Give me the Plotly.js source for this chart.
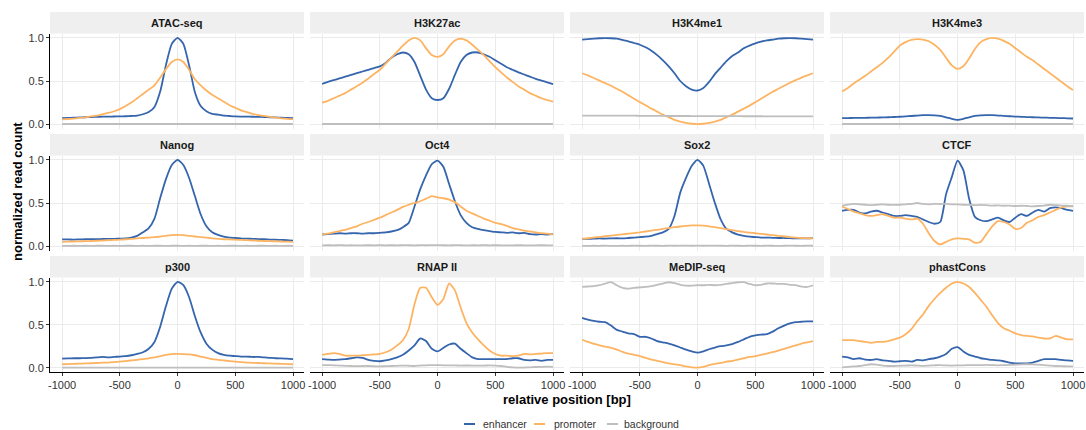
<!DOCTYPE html>
<html>
<head>
<meta charset="utf-8">
<script src="https://cdn.plot.ly/plotly-3.0.1.min.js"></script>
<style>html,body{margin:0;padding:0;background:#fff;}#chart{width:1086px;height:430px;}</style>
</head>
<body>
<div id="chart"></div>
<script>
// ---------- DATA ----------
const position = [-1000,-950,-900,-850,-800,-750,-700,-650,-600,-550,-500,-450,-400,-350,-300,-250,-200,-150,-100,-50,0,50,100,150,200,250,300,350,400,450,500,550,600,650,700,750,800,850,900,950,1000];

const panelNames = ['ATAC-seq','H3K27ac','H3K4me1','H3K4me3','Nanog','Oct4','Sox2','CTCF','p300','RNAP II','MeDIP-seq','phastCons'];
const seriesNames = ['enhancer','promoter','background'];
const seriesColors = ['#3565AD','#FDB462','#BEBEBE'];
const xTickVals = [-1000,-500,0,500,1000];
const xTickText = ['-1000','-500','0','500','1000'];
const yTickVals = [0,0.5,1];
const yTickText = ['0.0','0.5','1.0'];

// ATAC-seq
const atac_enhancer = [0.07,0.072,0.075,0.078,0.08,0.083,0.085,0.087,0.088,0.089,0.09,0.092,0.095,0.1,0.115,0.14,0.2,0.38,0.69,0.93,1.0,0.93,0.68,0.37,0.21,0.15,0.12,0.11,0.1,0.095,0.09,0.088,0.087,0.086,0.085,0.083,0.08,0.078,0.075,0.073,0.07];
const atac_promoter = [0.055,0.06,0.065,0.072,0.08,0.09,0.1,0.115,0.13,0.15,0.175,0.21,0.25,0.3,0.35,0.4,0.45,0.54,0.64,0.72,0.75,0.72,0.63,0.52,0.45,0.39,0.34,0.3,0.26,0.22,0.19,0.16,0.14,0.12,0.105,0.095,0.085,0.075,0.068,0.062,0.058];
const atac_background = [0.002,0.002,0.002,0.002,0.002,0.002,0.002,0.002,0.002,0.002,0.002,0.002,0.002,0.002,0.002,0.002,0.002,0.002,0.002,0.002,0.002,0.002,0.002,0.002,0.002,0.002,0.002,0.002,0.002,0.002,0.002,0.002,0.002,0.002,0.002,0.002,0.002,0.002,0.002,0.002,0.002];

// H3K27ac
const h3k27ac_enhancer = [0.465,0.49,0.51,0.53,0.55,0.57,0.59,0.61,0.63,0.65,0.67,0.71,0.77,0.81,0.83,0.81,0.72,0.56,0.4,0.3,0.28,0.3,0.41,0.57,0.72,0.8,0.83,0.83,0.81,0.78,0.74,0.7,0.66,0.63,0.6,0.575,0.55,0.525,0.505,0.485,0.465];
const h3k27ac_promoter = [0.25,0.27,0.3,0.33,0.36,0.4,0.44,0.48,0.53,0.58,0.63,0.7,0.77,0.84,0.91,0.97,1.0,0.97,0.88,0.8,0.78,0.81,0.9,0.97,0.99,0.97,0.92,0.86,0.8,0.73,0.66,0.6,0.54,0.49,0.44,0.4,0.36,0.33,0.3,0.28,0.26];
const h3k27ac_background = [0.002,0.002,0.002,0.002,0.002,0.002,0.002,0.002,0.002,0.002,0.002,0.002,0.002,0.002,0.002,0.002,0.002,0.002,0.002,0.002,0.002,0.002,0.002,0.002,0.002,0.002,0.002,0.002,0.002,0.002,0.002,0.002,0.002,0.002,0.002,0.002,0.002,0.002,0.002,0.002,0.002];

// H3K4me1
const h3k4me1_enhancer = [0.98,0.985,0.99,0.995,0.997,0.995,0.99,0.975,0.96,0.94,0.92,0.89,0.85,0.8,0.74,0.67,0.59,0.5,0.44,0.4,0.39,0.42,0.49,0.58,0.655,0.73,0.79,0.83,0.88,0.91,0.935,0.955,0.97,0.98,0.99,0.995,0.997,0.995,0.99,0.985,0.98];
const h3k4me1_promoter = [0.59,0.565,0.535,0.505,0.475,0.445,0.41,0.375,0.335,0.295,0.255,0.22,0.18,0.145,0.11,0.08,0.05,0.03,0.015,0.005,0.0,0.005,0.015,0.03,0.05,0.08,0.11,0.145,0.18,0.215,0.255,0.295,0.335,0.375,0.41,0.445,0.48,0.51,0.54,0.565,0.59];
const h3k4me1_background = [0.1,0.1,0.1,0.1,0.1,0.1,0.1,0.099,0.098,0.098,0.097,0.097,0.096,0.096,0.096,0.095,0.095,0.095,0.095,0.094,0.094,0.094,0.094,0.093,0.093,0.093,0.093,0.093,0.092,0.092,0.092,0.092,0.091,0.091,0.091,0.091,0.09,0.09,0.09,0.09,0.09];

// H3K4me3
const h3k4me3_enhancer = [0.07,0.071,0.072,0.073,0.074,0.075,0.077,0.078,0.08,0.083,0.086,0.09,0.095,0.1,0.104,0.105,0.103,0.095,0.08,0.062,0.05,0.062,0.08,0.095,0.103,0.105,0.104,0.1,0.096,0.092,0.088,0.085,0.082,0.08,0.078,0.076,0.074,0.072,0.07,0.068,0.066];
const h3k4me3_promoter = [0.38,0.42,0.47,0.515,0.56,0.61,0.66,0.71,0.77,0.84,0.91,0.95,0.975,0.985,0.98,0.96,0.92,0.86,0.77,0.68,0.64,0.67,0.76,0.87,0.95,0.985,1.0,0.99,0.965,0.93,0.88,0.83,0.78,0.74,0.69,0.64,0.59,0.54,0.49,0.44,0.395];
const h3k4me3_background = [0.002,0.002,0.002,0.002,0.002,0.002,0.002,0.002,0.002,0.002,0.002,0.002,0.002,0.002,0.002,0.002,0.002,0.002,0.002,0.002,0.002,0.002,0.002,0.002,0.002,0.002,0.002,0.002,0.002,0.002,0.002,0.002,0.002,0.002,0.002,0.002,0.002,0.002,0.002,0.002,0.002];

// Nanog
const nanog_enhancer = [0.078,0.078,0.077,0.079,0.08,0.082,0.08,0.083,0.085,0.085,0.088,0.09,0.1,0.12,0.16,0.21,0.32,0.56,0.78,0.94,1.0,0.94,0.79,0.58,0.37,0.23,0.16,0.13,0.11,0.1,0.095,0.09,0.087,0.085,0.082,0.08,0.077,0.075,0.072,0.07,0.065];
const nanog_promoter = [0.05,0.052,0.054,0.056,0.058,0.06,0.063,0.066,0.069,0.072,0.075,0.08,0.085,0.09,0.095,0.1,0.105,0.11,0.12,0.127,0.13,0.127,0.12,0.112,0.105,0.098,0.09,0.085,0.08,0.078,0.075,0.072,0.069,0.066,0.063,0.06,0.058,0.056,0.054,0.052,0.05];
const nanog_background = [0.004,0.004,0.005,0.004,0.005,0.004,0.005,0.005,0.004,0.005,0.004,0.005,0.005,0.004,0.005,0.004,0.005,0.005,0.004,0.005,0.005,0.004,0.005,0.004,0.005,0.005,0.004,0.005,0.004,0.005,0.005,0.004,0.005,0.004,0.005,0.005,0.004,0.005,0.004,0.005,0.004];

// Oct4
const oct4_enhancer = [0.135,0.14,0.145,0.15,0.145,0.15,0.15,0.145,0.15,0.15,0.155,0.16,0.17,0.185,0.22,0.27,0.46,0.66,0.82,0.95,0.99,0.92,0.72,0.52,0.36,0.27,0.22,0.2,0.185,0.175,0.165,0.16,0.155,0.16,0.15,0.155,0.14,0.135,0.14,0.135,0.14];
const oct4_promoter = [0.135,0.145,0.16,0.175,0.19,0.21,0.23,0.26,0.28,0.305,0.33,0.36,0.39,0.42,0.455,0.48,0.5,0.52,0.55,0.58,0.565,0.555,0.54,0.51,0.46,0.41,0.38,0.35,0.32,0.295,0.27,0.255,0.235,0.21,0.195,0.18,0.17,0.16,0.15,0.145,0.135];
const oct4_background = [0.01,0.011,0.01,0.012,0.01,0.011,0.009,0.01,0.011,0.01,0.012,0.01,0.011,0.01,0.012,0.011,0.01,0.012,0.011,0.013,0.012,0.011,0.01,0.012,0.011,0.01,0.011,0.01,0.012,0.01,0.011,0.01,0.009,0.01,0.011,0.01,0.009,0.01,0.011,0.01,0.01];

// Sox2
const sox2_enhancer = [0.085,0.085,0.087,0.09,0.088,0.09,0.092,0.09,0.095,0.1,0.105,0.11,0.12,0.14,0.16,0.2,0.35,0.62,0.79,0.93,1.0,0.93,0.72,0.5,0.31,0.2,0.16,0.135,0.12,0.11,0.105,0.1,0.1,0.097,0.095,0.095,0.093,0.09,0.092,0.09,0.093];
const sox2_promoter = [0.085,0.092,0.1,0.108,0.115,0.122,0.13,0.137,0.145,0.152,0.16,0.17,0.18,0.19,0.2,0.21,0.22,0.228,0.235,0.24,0.24,0.237,0.23,0.22,0.21,0.197,0.185,0.175,0.165,0.157,0.15,0.142,0.135,0.127,0.12,0.112,0.105,0.1,0.095,0.092,0.09];
const sox2_background = [0.004,0.003,0.005,0.004,0.006,0.004,0.003,0.005,0.004,0.006,0.005,0.004,0.006,0.005,0.004,0.006,0.005,0.007,0.006,0.005,0.006,0.005,0.007,0.006,0.005,0.004,0.006,0.005,0.004,0.006,0.005,0.004,0.006,0.005,0.004,0.005,0.006,0.005,0.004,0.006,0.005];

// CTCF
const ctcf_enhancer = [0.41,0.42,0.42,0.39,0.38,0.4,0.41,0.39,0.37,0.35,0.35,0.36,0.35,0.34,0.31,0.28,0.26,0.28,0.6,0.8,0.99,0.88,0.55,0.34,0.3,0.29,0.31,0.33,0.3,0.28,0.33,0.37,0.35,0.39,0.42,0.4,0.44,0.45,0.44,0.42,0.41];
const ctcf_promoter = [0.46,0.43,0.4,0.38,0.36,0.35,0.36,0.37,0.35,0.33,0.33,0.32,0.31,0.32,0.26,0.15,0.06,0.02,0.05,0.08,0.09,0.085,0.08,0.04,0.05,0.14,0.23,0.29,0.28,0.25,0.2,0.21,0.27,0.3,0.34,0.36,0.39,0.42,0.45,0.46,0.465];
const ctcf_background = [0.47,0.48,0.49,0.485,0.48,0.475,0.48,0.485,0.48,0.478,0.48,0.485,0.49,0.5,0.49,0.485,0.49,0.488,0.49,0.485,0.485,0.48,0.478,0.475,0.478,0.475,0.47,0.472,0.468,0.47,0.465,0.468,0.465,0.462,0.465,0.47,0.48,0.475,0.47,0.468,0.46];

// p300
const p300_enhancer = [0.105,0.108,0.11,0.11,0.112,0.115,0.12,0.125,0.12,0.125,0.13,0.135,0.145,0.16,0.18,0.22,0.3,0.48,0.72,0.92,1.0,0.96,0.82,0.6,0.41,0.28,0.21,0.17,0.15,0.14,0.135,0.13,0.13,0.125,0.125,0.12,0.115,0.11,0.108,0.105,0.1];
const p300_promoter = [0.04,0.042,0.045,0.047,0.05,0.052,0.055,0.058,0.06,0.065,0.07,0.077,0.085,0.092,0.1,0.108,0.12,0.135,0.15,0.158,0.16,0.158,0.155,0.145,0.13,0.115,0.1,0.092,0.085,0.077,0.07,0.065,0.06,0.057,0.055,0.052,0.05,0.047,0.045,0.042,0.04];
const p300_background = [0.002,0.002,0.002,0.002,0.002,0.002,0.002,0.002,0.002,0.002,0.002,0.002,0.002,0.002,0.002,0.002,0.002,0.002,0.002,0.002,0.002,0.002,0.002,0.002,0.002,0.002,0.002,0.002,0.002,0.002,0.002,0.002,0.002,0.002,0.002,0.002,0.002,0.002,0.002,0.002,0.002];

// RNAP II
const rnap_enhancer = [0.1,0.095,0.09,0.095,0.1,0.11,0.12,0.115,0.09,0.08,0.075,0.085,0.1,0.12,0.15,0.2,0.26,0.34,0.31,0.22,0.19,0.23,0.27,0.28,0.22,0.17,0.12,0.1,0.1,0.1,0.1,0.1,0.1,0.11,0.11,0.09,0.085,0.09,0.08,0.09,0.09];
const rnap_promoter = [0.15,0.16,0.17,0.16,0.14,0.14,0.14,0.145,0.15,0.155,0.16,0.18,0.21,0.26,0.32,0.45,0.74,0.93,0.93,0.82,0.73,0.8,0.98,0.9,0.7,0.52,0.41,0.33,0.26,0.2,0.16,0.14,0.14,0.135,0.14,0.16,0.155,0.16,0.165,0.17,0.17];
const rnap_background = [0.03,0.03,0.028,0.025,0.022,0.02,0.018,0.02,0.02,0.017,0.015,0.018,0.02,0.022,0.025,0.023,0.02,0.025,0.028,0.03,0.03,0.028,0.027,0.026,0.025,0.026,0.025,0.024,0.025,0.026,0.025,0.02,0.01,0.003,0.0,0.002,0.005,0.008,0.01,0.012,0.01];

// MeDIP-seq
const medip_enhancer = [0.58,0.56,0.545,0.535,0.53,0.49,0.44,0.42,0.4,0.39,0.36,0.36,0.34,0.31,0.295,0.28,0.26,0.235,0.21,0.19,0.175,0.19,0.215,0.235,0.25,0.26,0.275,0.3,0.33,0.36,0.375,0.385,0.39,0.42,0.46,0.49,0.515,0.53,0.535,0.54,0.54];
const medip_promoter = [0.325,0.3,0.28,0.26,0.245,0.23,0.21,0.185,0.165,0.15,0.135,0.115,0.095,0.08,0.065,0.05,0.04,0.03,0.015,0.005,0.0,0.01,0.03,0.045,0.055,0.07,0.08,0.095,0.11,0.125,0.135,0.15,0.165,0.18,0.2,0.22,0.24,0.26,0.28,0.295,0.31];
const medip_background = [0.94,0.945,0.95,0.96,0.98,0.995,0.96,0.93,0.92,0.93,0.935,0.94,0.95,0.965,0.98,0.995,0.985,0.965,0.955,0.955,0.96,0.96,0.965,0.96,0.965,0.975,0.985,0.995,0.995,0.975,0.96,0.965,0.98,0.98,0.975,0.975,0.965,0.96,0.945,0.94,0.96];

// phastCons
const phast_enhancer = [0.13,0.12,0.1,0.11,0.095,0.09,0.1,0.085,0.08,0.07,0.075,0.08,0.07,0.09,0.085,0.1,0.11,0.13,0.16,0.22,0.24,0.19,0.15,0.13,0.11,0.1,0.09,0.085,0.075,0.06,0.05,0.05,0.05,0.06,0.08,0.1,0.1,0.1,0.09,0.085,0.08];
const phast_promoter = [0.32,0.32,0.32,0.31,0.3,0.29,0.3,0.3,0.31,0.33,0.35,0.39,0.45,0.54,0.62,0.72,0.8,0.87,0.93,0.98,1.0,0.98,0.94,0.87,0.79,0.71,0.61,0.52,0.46,0.43,0.4,0.38,0.37,0.365,0.35,0.34,0.34,0.37,0.35,0.33,0.33];
const phast_background = [0.005,0.01,0.015,0.02,0.03,0.04,0.035,0.025,0.02,0.02,0.022,0.025,0.028,0.025,0.022,0.025,0.028,0.03,0.027,0.025,0.027,0.028,0.03,0.03,0.03,0.032,0.03,0.028,0.03,0.032,0.035,0.038,0.04,0.038,0.035,0.03,0.025,0.02,0.018,0.015,0.015];

const panelSeries = [
  [atac_enhancer, atac_promoter, atac_background],
  [h3k27ac_enhancer, h3k27ac_promoter, h3k27ac_background],
  [h3k4me1_enhancer, h3k4me1_promoter, h3k4me1_background],
  [h3k4me3_enhancer, h3k4me3_promoter, h3k4me3_background],
  [nanog_enhancer, nanog_promoter, nanog_background],
  [oct4_enhancer, oct4_promoter, oct4_background],
  [sox2_enhancer, sox2_promoter, sox2_background],
  [ctcf_enhancer, ctcf_promoter, ctcf_background],
  [p300_enhancer, p300_promoter, p300_background],
  [rnap_enhancer, rnap_promoter, rnap_background],
  [medip_enhancer, medip_promoter, medip_background],
  [phast_enhancer, phast_promoter, phast_background]
];

// ---------- LAYOUT ----------
const FONT = 'Liberation Sans, Arial, Helvetica, sans-serif';
const W = 1086, H = 430;
const mL = 50, mR = 2, mT = 12, mB = 58;
const plotW = W - mL - mR, plotH = H - mT - mB;
const colLeft = [50, 310, 570, 830], panelW = 254;
const rowTop = [12, 134, 256], stripH = 21.5, panelBottomOff = 116.5;
const px2x = p => (p - mL) / plotW;
const py2y = p => (H - mB - p) / plotH;

const traces = [];
const layout = {
  width: W, height: H,
  margin: {l: mL, r: mR, t: mT, b: mB, autoexpand: false},
  paper_bgcolor: '#ffffff', plot_bgcolor: '#ffffff',
  font: {family: FONT, size: 11, color: '#333333'},
  showlegend: false,
  shapes: [], annotations: []
};

panelNames.forEach((name, i) => {
  const r = Math.floor(i / 4), c = i % 4;
  const n = i + 1;
  const xk = 'xaxis' + (n === 1 ? '' : n), yk = 'yaxis' + (n === 1 ? '' : n);
  const xr = 'x' + (n === 1 ? '' : n), yr = 'y' + (n === 1 ? '' : n);
  const left = colLeft[c], right = left + panelW;
  const top = rowTop[r] + stripH, bottom = rowTop[r] + panelBottomOff;
  const isBottom = r === 2, isLeft = c === 0;
  layout[xk] = {
    domain: [px2x(left), px2x(right)], anchor: yr, range: [-1105, 1095],
    tickvals: xTickVals, ticktext: xTickText, showticklabels: isBottom,
    ticks: isBottom ? 'outside' : '', ticklen: 3, tickcolor: '#333333', tickwidth: 1,
    showline: isBottom, linecolor: '#000000', linewidth: 1,
    showgrid: true, gridcolor: '#EBEBEB', gridwidth: 1, zeroline: false,
    tickfont: {family: FONT, size: 11, color: '#333333'}, fixedrange: true
  };
  layout[yk] = {
    domain: [py2y(bottom), py2y(top)], anchor: xr, range: [-0.05, 1.05],
    tickvals: yTickVals, ticktext: yTickText, showticklabels: isLeft,
    ticks: isLeft ? 'outside' : '', ticklen: 3, tickcolor: '#333333', tickwidth: 1,
    showline: isLeft, linecolor: '#000000', linewidth: 1,
    showgrid: true, gridcolor: '#EBEBEB', gridwidth: 1, zeroline: false,
    tickfont: {family: FONT, size: 11, color: '#333333'}, fixedrange: true
  };
  layout.shapes.push({type: 'rect', xref: 'paper', yref: 'paper', layer: 'below',
    x0: px2x(left), x1: px2x(right), y0: py2y(rowTop[r] + stripH), y1: py2y(rowTop[r]),
    fillcolor: '#EFEFEF', line: {width: 0}});
  layout.annotations.push({xref: 'paper', yref: 'paper', x: px2x((left + right) / 2),
    y: py2y(rowTop[r] + stripH / 2), text: '<b>' + name + '</b>', showarrow: false,
    xanchor: 'center', yanchor: 'middle', font: {family: FONT, size: 11, color: '#1A1A1A'}});
  panelSeries[i].forEach((vals, s) => {
    traces.push({
      type: 'scatter', mode: 'lines', x: position, y: vals, xaxis: xr, yaxis: yr,
      name: seriesNames[s], showlegend: false,
      line: {color: seriesColors[s], width: 1.8, shape: 'spline', smoothing: 0.6},
      hoverinfo: 'skip'
    });
  });
});

// Axis titles
layout.annotations.push({xref: 'paper', yref: 'paper', x: px2x(567), y: py2y(399),
  text: '<b>relative position [bp]</b>', showarrow: false, xanchor: 'center', yanchor: 'middle',
  font: {family: FONT, size: 13, color: '#000000'}});
layout.annotations.push({xref: 'paper', yref: 'paper', x: px2x(17), y: py2y(192),
  text: '<b>normalized read count</b>', showarrow: false, textangle: -90,
  xanchor: 'center', yanchor: 'middle', font: {family: FONT, size: 13, color: '#000000'}});

// Legend (key line + label for each series)
const legendKeyX = [464, 534, 607];
const legendTextX = [481, 552, 622];
seriesNames.forEach((nm, s) => {
  const x0 = legendKeyX[s];
  layout.shapes.push({type: 'line', xref: 'paper', yref: 'paper',
    x0: px2x(x0), x1: px2x(x0 + 11), y0: py2y(424), y1: py2y(424),
    line: {color: seriesColors[s], width: 2}});
  layout.annotations.push({xref: 'paper', yref: 'paper', x: px2x(legendTextX[s]), y: py2y(424),
    text: nm, showarrow: false, xanchor: 'left', yanchor: 'middle',
    font: {family: FONT, size: 10.5, color: '#333333'}});
});

Plotly.newPlot('chart', traces, layout, {displayModeBar: false, staticPlot: true});
</script>
</body>
</html>
